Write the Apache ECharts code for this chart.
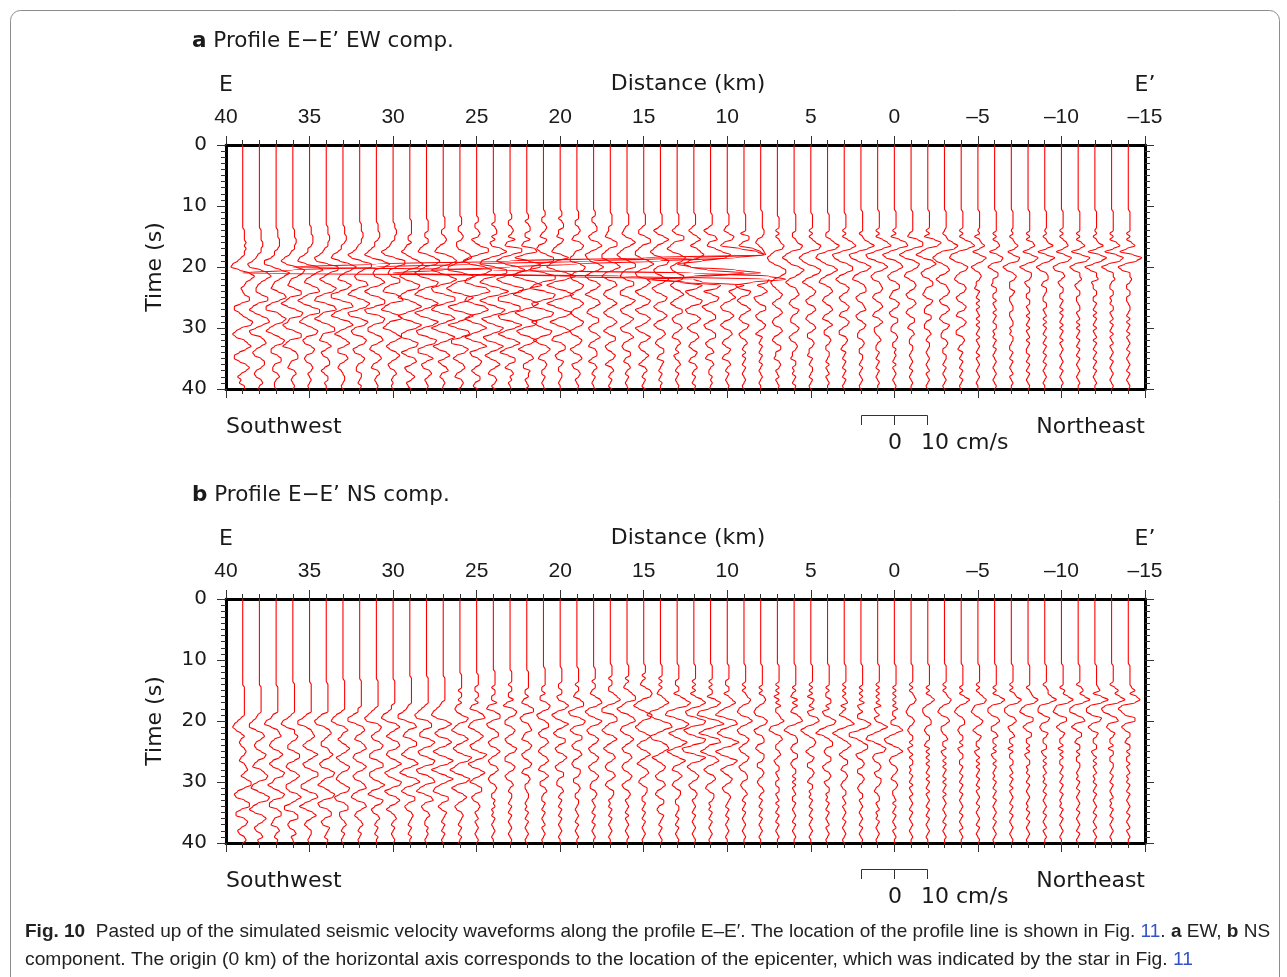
<!DOCTYPE html>
<html>
<head>
<meta charset="utf-8">
<script src="https://cdn.jsdelivr.net/npm/echarts@6/dist/echarts.min.js"></script>
<style>
  html, body { margin: 0; padding: 0; background: #fff; }
  #chart { width: 1287px; height: 977px; }
</style>
</head>
<body>
<div id="chart"></div>
<script>
// station positions along the profile (km from epicentre), west -> east
const traceKm = [39, 38, 37, 36, 35, 34, 33, 32, 31, 30, 29, 28, 27, 26, 25, 24, 23, 22, 21, 20,
  19, 18, 17, 16, 15, 14, 13, 12, 11, 10, 9, 8, 7, 6, 5, 4, 3, 2, 1, 0,
  -1, -2, -3, -4, -5, -6, -7, -8, -9, -10, -11, -12, -13, -14];

// trace deflection, one char per 0.5 s from t = 10 s to 40 s
// '0' = none, 'A'..'Z' = +0.1..+2.6 km to the right, 'a'..'z' = same to the left
const ewTraces = [
  "00000000 AAAABABAAa cfgbDGEBAa 0ADDaeeb0C FEadfdACEB beebBDBaca bAA",
  "00000000 AAAABBAAab dgfAEGDAab bAEEadfcAE FBbfeACDAb dcACCAbcbA B0a",
  "00000000 AAABBBAaac ggbCHEBabc AEFBcffACF DadfbBEDac cACCabbAB0 aa0",
  "00000000 AAABBAAabe gdBGFCabcA EEbdgcBFEb cfdAEEbdfa BCCabcAB0a 0A0",
  "0000000A AABBBAaacf gbEHDAbcAE FadgdAFFad fbBEDbdcAC BbcbABAa0A 0a0",
  "0000000A AABBAAabdg fAGGBadaCF Dbfg0EFbdg cBEEbcdAC0 cbABBacaAA a00",
  "0000000A AABBAaacfg bDHEAbcBEC bggaEFaegb DFBbeaBDAc cBCAbca0AA 0a0",
  "000000AA ABBAAabdge AGGBacbDEa egbCFDagfA ECcedBDCad cACBabbAA0 aA0",
  "000000AA ABBAaacegc DHEabaCEBd gdBEEagfBE DbeeaCDAcd aBCAbcAB0a 0A0",
  "000000AA BBAAabdgeA GGBbcaDDbe fBEFbegaDE bdfaBEBbdb BDBacbAB0a 0a0",
  "00000AAA AAaaAbcebA EHEadfcBFE beg0DGCbgd BGDbeeAEDa ebCDAcbACA baA",
  "00000AAA AaaAAbdeAE HFadgdBGFa egbDGCbgdB GDbfeAFEae eAD0cbBCAa 0A0",
  "0000AAAA aaABAbdeBF HDbgbDHEbg fAGGAegbEG BcgcCGCbfc BDAcaBCab0 A0a",
  "0000AAAa aABAbbaCFG CcggBHFbeh eBHEagdCHD agbEFAeeBE CbdaBCAbcA BAa",
  "0000AAaa ABAcaBGGAe hdEIFafgbF HBfgbEGCdg cCFBcgcCFA dcACBacaBB abA",
  "000AAAaA BBaAbaEHDb ghAHHAfhcD IDdhdBGEag dAFDafdBFC bebBDAbcAB AaA",
  "000AAaaA BAaCbcGGAe hcEIEcheAH GaggAFFagf BGCcgcCFBc faCCacAB0A a0A",
  "000AAaAB BaaBbcEFbg AHHAfhbEIB ehcCGDbgdA FEbfdBFCbe aCDAbbBAAa 0Aa",
  "00AAaaAB AabBAcdbBF FbghAGGafh AGFagfAFEa gd0EDbfcBD BbcABAaaA0 a0A",
  "00AAaABB aabBAbdeAE bfhcDIDdhc DHBdhcBGDb fbCFAdeACC acbBAaaAA0 a00",
  "00AAAaaA BAbcBDCabd dBEDbdcADC adcBDBbdbA DCadcACBad bBCAcbABAa 0A0",
  "00AAaaAB BacbCEBbed bCFCbecBDB beaCDAcdaC CacbBDAbcA BBacAB0aA0 a0A",
  "000AAAAa abcADDacee aDFBcebCDA cdbBDAbdbB DBbdaCCacb ACBacAB0aA 0aA",
  "000AAAAa bcaCEBbdfd AEEacdaDDa ddAECadcAD BadcBDAbcb BBabAB0aA0 a0A",
  "000AAAAa ccADDaceeb CFCbedBDBa ecADCaecBD BaecADBbcb ACAacAB0aA 0aA",
  "000AAAAa dbBEBbdfdA EDbdcAEBbe cADCbdbBDB bdbBCAbcaB BabBA0aA0a A00",
  "000AAAAa caDDbdfcBE Cadc0DCbdb BDAbdaCCac bBCAbcAB0a AbaAB0aA0a 0A0",
  "000AAAAa caBDAbdcBD CBadcBFCae ecAEDbedBD BbdbBCAbca BAbcAB0aA0 aA0",
  "000AAAAa dbCDabecAD DBcecBEBbf dAEDaecACC adcACCacbA BbcAB0aaA0 A0a",
  "000AAAAa bADCbdcBDD BbdcBEDbed ACEBbdcBDB bdbBCAbcaB AbcAB0aA0a 0A0",
  "000AAAAA AbCCacdADC aceaEEbdeA DCbdbBDAbc aCBacbAB0a AaA0aA0a0A 0a0",
  "00AAAAAA BBAbcaCDBb dcBEDaecAD DAdcaCCacb ACBacA0aA0 aA0aA0a0A0 a00",
  "0000AAAA aAaABDCbdf ebBEEBbdca ACBacaBCAb cbBCAbcaBB aabABAa0Aa 0A0",
  "000AAAAA AaaABEDbeg dbCFDAcecA BCAbcaCBab bACBacbABA aabAAa0aA0 aA0",
  "000AAAAA aAaACFEaeg ebCFEAcebA CBacbBCAbc aBCAbbABAa abA0aAA0aA 0a0",
  "000AAAAA AaaBDGEafg daDFCadeaB CAbcaBCAbc AC0bbABAaa AA0aAa0Aa0 A00",
  "000AAAAA aAaBEGDbgf cBEEAcecAC BacbACBbcA CBaccABAab A0aA0aA0aA 0a0",
  "00AAAAAA AaABEHDbgf bCFDadeaBC CacbABCacb ACBabbABAa aAA0aA0a0A 0a0",
  "00AAAAAA aAaCFHCbgf aDFCbdcABC BbcaBCAbcA CAbbaAB0aa A0aA0aA0a0 A00",
  "00AAAAAA aAbCGHBcge ADEBbdcACC abcACBacbB BabbABAaaA 0A0aAa0A0a 0A0",
  "00AAAAAA AabDGGAdgd BEDAcdaBCB acbBCAbcaB BabAB0aaAA 0a0A0aA0a0 A00",
  "00AAAAAA aAbDHFadgc CEBbdcACCa bcaCBabbBB abbAB0aAA0 a0A0a0Aa0A 0a0",
  "00AAAAAA 0aABEHFbeg eaBCAcecAB CBacbBCAbc aCBabbABAa aAA0aA0a0A 0a0",
  "00AAAAAA aAaBFHDbfg dADCacdbBC BacbACBbcA CBaccABAab A0aA0aA0aA 0a0",
  "00AAAAAA 0AbABDAcAE CadbABAaab A0aAaAa0Aa AaA0aAa0A0 aAa0A0a0A0 a00",
  "00AAAAAA AaAaBCAcBE DbdaBBaabA AaaAa0AaA0 aAAa0aA0aA 0a0A0a0A0a 0A0",
  "00AAAAAA 0AaABDBbAE DbecACBaaa BAaa0AAaa0 AAa0aAA0aa A0aA0a0Aa0 A00",
  "00AAAAAA AaAaCDAcBF DaebBBAbaA AaaAAa0AaA 0aAa0AaA0a aA0aA0aA0a 0A0",
  "00AAAAAA 0AaABEAdAF CbecABBabA A0aaAAa0Aa AaA0aA0aA0 aA0aA0a0A0 a00",
  "00AAAAAA aAaACDAcBF DbedAB0baA AaaA0aAaA0 aAaA0aAa0A 0a0A0aA0a0 A00",
  "00AAAAAA AaAaBDAdBG EbecAAB0ba AAaa0AAa0A aAaA0aA0aA 0aA0a0A0a0 A00",
  "00AAAAAA 0AaABEAdCG DafcAABbaa AAaaA0aAaA 0aAa0AaA0a A0aA0aA0a0 A00",
  "00AAAAAA AaAaCEAdCG EbfcAAB0aa AAa0aAAa0A aA0aAa0Aa0 A0aA0a0A0a 0A0",
  "00AAAAAA AaAaBDaeCH EbfdAABAaa AAaa0AA0aA aA0aAa0A0a A0a0A0aA0a 0A0"
];

const nsTraces = [
  "00000000 0AAAAAAAAA AacefdaAab aABAabABCA aBEEAcedAD DaddACBacb AB0",
  "00000000 0AAAAAAAAA abdffbBCAb cbADCacdAC EDadeaCFEa dfcBDBacbA Ba0",
  "00000000 0AAAAAAAAA bcfgcABCac dbBDBbdbBE DabebBEDbd dACCabcAB0 aA0",
  "00000000 AAAAAAAAAA acfgdAACBa ccADDAcdbB DBaddbCEBa eeACCbcbAB a0A",
  "00000000 AAAAAAAAAA bdggbABCAb dbBEBadcAE EAbeeaDEAc fbBDAbcaAA 0a0",
  "00000000 AAAAAAAAAA cegfaBCAac cABDBbdcBE DaceaBEDbe dACCacbBA0 aA0",
  "0000000A AAAAAAAAAa dfgdAC0aca BDBadbADCa cdbADCbedA CCbbaAB0aA 0a0",
  "0000000A AAAAAAAAaa dggbBCAbcA CDAcdbBDBb dcACDadebC DAbcaAB0aA 0a0",
  "0000000A AAAAAAAAac egfACBacbB DCbddADDad dbBEBceaDC acbAB0aA0a A00",
  "0000000A AAAAAAAaac fgdBDAbdaC DBcdbBEBbe cAEDaecBDB bdaAB0aA0a 0A0",
  "000000AA AAAAAAAabd ggbCDacdAD DacebCEAdf bDFBcebCCa cbABA0aA0a A00",
  "000000AA AAAAAAAace gfACCbddBE CbedAEDbfe ADEadfaCDa cbAB0aaA0A 0a0",
  "000000AA AAAAAAabdf gdBEBcecCE BcfcBFCcgc BFBbefbCCa caBA0aA0aA 0a0",
  "00000AAA AAaAAaAbcb AEDacebCEB bdbBGEacfc BFDbebBDBa cbABA0aA0a A0a",
  "00000AAA AaaAAaAcdA DEbdeaBDBa dcAFDaecBE Bbd0CCacbA BAa0Aa0A0a 0A0",
  "0000AAAA AaAAaaBcdA DDadcACCac bBDBacbBCA bcbABAaaA0 Aa0aA0a0A0 a00",
  "0000AAAA aAAaaBbdBD CaccACBacb ADCaccACBa cbAB0aAA0a A0aA0a0A0a 0A0",
  "0000AAAA AAaaAbcADD bdcABCabcA CBacbACBbc ABAaa0AA0a 0aA0aA0a0A 0a0",
  "000AAAAA AaaAbbBDCa dcACCacbBC AbcaBCAbcA CAbbAB0aaA 0aA0a0Aa0A 0a0",
  "000AAAAA aaAAbaCECb ecAEBbdbCC acbBDBacbB BabbAB0aA0 aA0aA0a0A0 a00",
  "000AAAAA aAAabBDDae dBEDbdbCCa cbBCAbcbBB AbbABAaaAA 0a0A0aA0a0 A00",
  "000AAAAa AAabADEBce cAECbdcACB acbACBacbA CBabbABAa0 A0aA0aA0a0 A00",
  "00AAAAaA AaaBDFCbee BDDacecBDA bdbBCAbcbB CAbcaBBAa0 aA0aA0a0A0 a00",
  "00AAAAaA abACEEacfd ADEAcdbBDB acbBCAbcbA CBacbABAa0 A0aAa0A0a0 A00",
  "00AAAaAa bADEDadfcA EDacecADBb dbBDAbdaBC AbcaBBAaaA 0aA0aA0a0A 0a0",
  "00AAAAaA aAabACEBaf hdAFGBbfeA DEBaebACBa cbBCAbcaBB abaBA0aA0a 0A0",
  "00AAAAAa aAAbBEHFaf gaDGEaebBF CbfcAEBbcA CAbcaBBAaa AA0aA0aA0a 0A0",
  "00AAAAAa AaAbAEGDbe dBGFbfdAGF agfAGDbdbA CBacbABAa0 A0aA0a0A0a 0A0",
  "00AAAAAa AaAAbCFDag hbEHBdgaEF acfbCEBbdb BCAbcaBBAa 0aA0aA0a0A 0a0",
  "00AAAAAa aAAbACEBbe gaEFAdfcCG CcgdAFDadb ACBacbABA0 aA0aA0a0A0 a00",
  "00AAAAAA aAaABDCacd bCEBbdcACB acbACBacbA BBabaAB0aA 0aA0a0A0a0 A00",
  "00AAAAAA AaAaBCBacd cBDCadcABB bcaBBAbbAB AabaAB0aA0 aA0aA0a0A0 a00",
  "00AAAAAA aAaAbAaBaa ABDAdebBCA aaAB0baAAa 0AaaAAa0Aa A0aA0aA0a0 A00",
  "00AAAAAA AaAabBaBab BDEAdfcABB abaBBabaAA aAaAa0AaaA 0a0A0aA0a0 A00",
  "00AAAAAA aAaAbBAaBb aDEBcfdaBC BacaBAbbAB AabAAa0aA0 aA0aA0a0A0 a00",
  "00AAAAAA AaAaaBBaAc bBEDaegbAC CabaBBacbA BAbaAAa0aA 0aA0a0Aa0A 0a0",
  "00AAAAAA aAaAaABbAa cADFAdgdaB DBacaBBabA BAabaAAa0A a0A0aA0a0A 0a0",
  "00AAAAAA AaAaAaBbaA bbCFDaggbA DDAcbABAbb ABAabaAAa0 A0a0A0aA0a 0A0",
  "00AAAAAA aAaAaAaBba AbaCFBbfgb BEDbcbABAb aBBAab0AAa 0Aa0aA0a0A 0a0",
  "00AAAAAA AaAaAaAaBa aAbbCEAcfe aCEBbcbABA abABAaa0Aa A0aA0a0Aa0 A00",
  "00AAAAAA aAaABCBabc bABAabaAAa AbaAaAAa0a A0aAa0Aa0A 0aA0a0A0a0 A00",
  "00AAAAAA AaAaBDBacc bABBabaAAa bAaAaAaA0a AaA0aAa0A0 aA0aA0a0A0 a00",
  "00AAAAAA aAaABDCacd bBCAbbaABa aAbaAaAaA0 aAaA0aAa0A 0a0A0aA0a0 A00",
  "00AAAAAA AaAaBECacd bABBabaAAa AbaAAaaA0a A0aA0aA0a0 A0aA0a0Aa0 A00",
  "00AAAAAA aAaACEDbcd bACBacaBAa aAbaAaAaA0 aA0aAa0A0a A0a0A0aA0a 0A0",
  "00AAAAAA AaAaCFDbdd bBCAbbABaa AaAbaAaA0a 0aA0aA0aA0 a0A0aA0a0A 0a0",
  "00AAAAAA aAaBCFDbdd bBCAbaABaa AbAaaAAa0A aA0aAa0A0a A0aA0a0A0a 0A0",
  "00AAAAAA AaABCFDbde bCCacaBBaa AaAbaAAa0a A0aA0a0A0a 0aA0aA0a0A 0a0",
  "00AAAAAA aABBDGCcdd aCBbcbBAaa AAbaAaAa0A a0aA0aA0a0 A0aA0a0Aa0 A00",
  "00AAAAAA AaBADGDcde bCCacaBAaa AbAaAaaA0a A0aA0aA0a0 aA0aA0a0A0 a00",
  "00AAAAAA aBCADGCcee aCDbdaBBab AAaAaaAA0a 0aA0aA0a0A 0aA0a0A0aA 0a0",
  "00AAAAAA ABCaDHDcee bDCbdbBAaa AAbaAaAa0A a0aA0aA0a0 A0aA0a0Aa0 A00",
  "00AAAAAA aBDBEHDdfe aCDbcaBAaa AbAAaaAA0a A0aA0a0Aa0 aA0aA0a0A0 a00",
  "00AAAAAA ABDAEGDdfd bDDbdbAAab AAaAaaAa0A a0aA0aA0a0 A0aA0a0Aa0 A00"
];

// the large EW pulses near 8-12 km (km of deflection, too big for the char code)
const ewSpikeTimes = [17, 17.5, 18, 18.5, 19, 19.5, 20, 20.5, 21, 21.5, 22, 22.5, 23, 23.5];
const ewSpikeKm = [12, 11, 10, 9, 8];
const ewSpikeOffsets = [
  [0.2, 0.4, 0.6, 0.3, -0.3, -0.6, -0.2, 0.8, 3.0, 1.0, -2.8, -0.8, 0.5, 0.2],
  [0.3, 0.7, 1.2, 0.9, -0.5, -2.0, -1.2, 1.5, 3.0, -1.0, -3.5, -1.5, 0.6, 0.4],
  [0.8, 1.8, 2.2, 0.5, -4, -9, -13, -17, -20, -10, -2, -1.5, 1.0, 0.5],
  [0.6, 1.0, 1.2, -6, -14, -22, -27, -15, -3, 1.5, 2.5, 0.5, -0.5, -0.3],
  [0.1, 0.2, 0.3, -4, -10, -17, -23, -28, -31, -8, 0.5, 0.4, -0.2, 0.2]
];

const distTicks = [40, 35, 30, 25, 20, 15, 10, 5, 0, -5, -10, -15];
const timeTicks = [0, 10, 20, 30, 40];

const T0 = 10, DT = 0.5;

function charToKm(c) {
  if (c === '0') return 0;
  const u = c.charCodeAt(0);
  return u <= 90 ? (u - 64) * 0.1 : -(u - 96) * 0.1;
}

function buildTrace(km, code, spikes) {
  const chars = code.replace(/ /g, '');
  const pts = [[km, 0]];
  for (let i = 0; i < chars.length; i++) {
    const t = T0 + DT * i;
    let off = charToKm(chars[i]);
    if (spikes) {
      const j = ewSpikeTimes.indexOf(t);
      if (j >= 0) off = spikes[j];
    }
    // x axis runs 40 -> -15, so a deflection to the right means smaller km
    pts.push([km - off, t]);
  }
  return pts;
}

const series = [];
function addPanel(codes, axisIdx, withSpikes) {
  traceKm.forEach((km, i) => {
    let spikes = null;
    if (withSpikes) {
      const k = ewSpikeKm.indexOf(km);
      if (k >= 0) spikes = ewSpikeOffsets[k];
    }
    series.push({
      type: 'line',
      xAxisIndex: axisIdx,
      yAxisIndex: axisIdx,
      data: buildTrace(km, codes[i], spikes),
      showSymbol: false,
      symbol: 'none',
      smooth: 0.4,
      smoothMonotone: 'y',
      clip: true,
      silent: true,
      lineStyle: { color: '#ff0000', width: 1.1 },
      z: 3
    });
  });
}
addPanel(ewTraces, 0, true);
addPanel(nsTraces, 2, false);

const INK = '#1a1a1a';
const fmtKm = v => (v < 0 ? '\u2013' + (-v) : String(v));

function xAx(gridIndex, position, showLabels) {
  return {
    type: 'value', gridIndex, position,
    min: -15, max: 40, interval: 5, inverse: true,
    axisLine: { show: true, onZero: false, lineStyle: { color: '#000', width: 3 } },
    axisTick: { show: true, inside: false, length: 9, lineStyle: { color: '#333', width: 1 } },
    minorTick: { show: true, splitNumber: 5, length: 5, lineStyle: { color: '#333', width: 1 } },
    splitLine: { show: false },
    axisLabel: {
      show: showLabels, margin: 17, fontSize: 21, color: INK,
      fontFamily: '"Liberation Sans", Arial, sans-serif',
      formatter: v => (distTicks.includes(v) ? fmtKm(v) : '')
    }
  };
}
function yAx(gridIndex, position, showLabels) {
  return {
    type: 'value', gridIndex, position,
    min: 0, max: 40, interval: 10, inverse: true,
    axisLine: { show: true, onZero: false, lineStyle: { color: '#000', width: 3 } },
    axisTick: { show: true, inside: false, length: 9, lineStyle: { color: '#333', width: 1 } },
    minorTick: { show: true, splitNumber: 10, length: 5, lineStyle: { color: '#333', width: 1 } },
    splitLine: { show: false },
    axisLabel: {
      show: showLabels, margin: 19, fontSize: 20, color: INK,
      fontFamily: '"DejaVu Sans", sans-serif',
      formatter: v => (timeTicks.includes(v) ? String(v) : '')
    }
  };
}

function txt(x, y, text, size, align, extra) {
  return Object.assign({
    type: 'text', x, y, silent: true,
    style: {
      text, fill: INK, font: size + 'px "DejaVu Sans", sans-serif',
      align, textAlign: align, verticalAlign: 'middle', textVerticalAlign: 'middle'
    }
  }, extra || {});
}

function panelGraphics(dy, letter, comp) {
  return [
    {
      type: 'text', x: 192, y: 41 + dy, silent: true,
      style: {
        text: '{b|' + letter + '} Profile E\u2212E\u2019 ' + comp + ' comp.',
        fill: INK, font: '21.5px "DejaVu Sans", sans-serif',
        verticalAlign: 'middle', textVerticalAlign: 'middle',
        rich: { b: { fontWeight: 'bold', fontSize: 21.5, fontFamily: '"DejaVu Sans", sans-serif', fill: INK } }
      }
    },
    txt(226, 85.5 + dy, 'E', 22, 'center'),
    txt(688, 84.5 + dy, 'Distance (km)', 22, 'center'),
    txt(1145, 85.5 + dy, 'E\u2019', 22, 'center'),
    txt(155, 267 + dy, 'Time (s)', 22, 'center', { rotation: Math.PI / 2 }),
    txt(226, 427 + dy, 'Southwest', 22, 'left'),
    txt(1145, 427 + dy, 'Northeast', 22, 'right'),
    {
      type: 'polyline', silent: true,
      shape: { points: [[861.5, 425 + dy], [861.5, 415.5 + dy], [927.5, 415.5 + dy], [927.5, 425 + dy]] },
      style: { stroke: '#333', lineWidth: 1, fill: null }
    },
    {
      type: 'line', silent: true,
      shape: { x1: 894.5, y1: 415.5 + dy, x2: 894.5, y2: 425 + dy },
      style: { stroke: '#333', lineWidth: 1 }
    },
    txt(895, 443 + dy, '0', 22, 'center'),
    txt(921, 443 + dy, '10 cm/s', 22, 'left')
  ];
}

// caption, squeezed to the span it has in the reference
const capLine1 = 'Fig. 10  Pasted up of the simulated seismic velocity waveforms along the profile E\u2013E\u2032. The location of the profile line is shown in Fig. 11. a EW, b NS';
const capLine2 = 'component. The origin (0 km) of the horizontal axis corresponds to the location of the epicenter, which was indicated by the star in Fig. 11';
const capFont = '"Liberation Sans", Arial, sans-serif';
const capSize = 18.5;
const mctx = document.createElement('canvas').getContext('2d');
mctx.font = capSize + 'px ' + capFont;
const s1 = (1267 - 25) / mctx.measureText(capLine1).width;
const s2 = (1193 - 25) / mctx.measureText(capLine2).width;
const capRich = {
  b: { fontWeight: 'bold', fontSize: capSize, fontFamily: capFont, fill: '#222' },
  l: { fontSize: capSize, fontFamily: capFont, fill: '#3452c8' }
};
const captionGraphics = [
  {
    type: 'text', x: 25, y: 932, scaleX: s1, silent: true,
    style: {
      text: '{b|Fig. 10}  Pasted up of the simulated seismic velocity waveforms along the profile E\u2013E\u2032. The location of the profile line is shown in Fig. {l|11}. {b|a} EW, {b|b} NS',
      font: capSize + 'px ' + capFont, fill: '#222', verticalAlign: 'middle', textVerticalAlign: 'middle', rich: capRich
    }
  },
  {
    type: 'text', x: 25, y: 960, scaleX: s2, silent: true,
    style: {
      text: 'component. The origin (0 km) of the horizontal axis corresponds to the location of the epicenter, which was indicated by the star in Fig. {l|11}',
      font: capSize + 'px ' + capFont, fill: '#222', verticalAlign: 'middle', textVerticalAlign: 'middle', rich: capRich
    }
  }
];

const chart = echarts.init(document.getElementById('chart'), null, { renderer: 'canvas' });
chart.setOption({
  animation: false,
  backgroundColor: '#fff',
  grid: [
    { left: 226, top: 145, width: 919, height: 244 },
    { left: 226, top: 599, width: 919, height: 244 }
  ],
  xAxis: [xAx(0, 'top', true), xAx(0, 'bottom', false), xAx(1, 'top', true), xAx(1, 'bottom', false)],
  yAxis: [yAx(0, 'left', true), yAx(0, 'right', false), yAx(1, 'left', true), yAx(1, 'right', false)],
  series,
  graphic: [
    {
      type: 'rect', silent: true,
      shape: { x: 10.5, y: 10.5, width: 1269, height: 990, r: 10 },
      style: { fill: null, stroke: '#8c8c8c', lineWidth: 1 }
    }
  ].concat(panelGraphics(0, 'a', 'EW'), panelGraphics(454, 'b', 'NS'), captionGraphics)
});
</script>
</body>
</html>
